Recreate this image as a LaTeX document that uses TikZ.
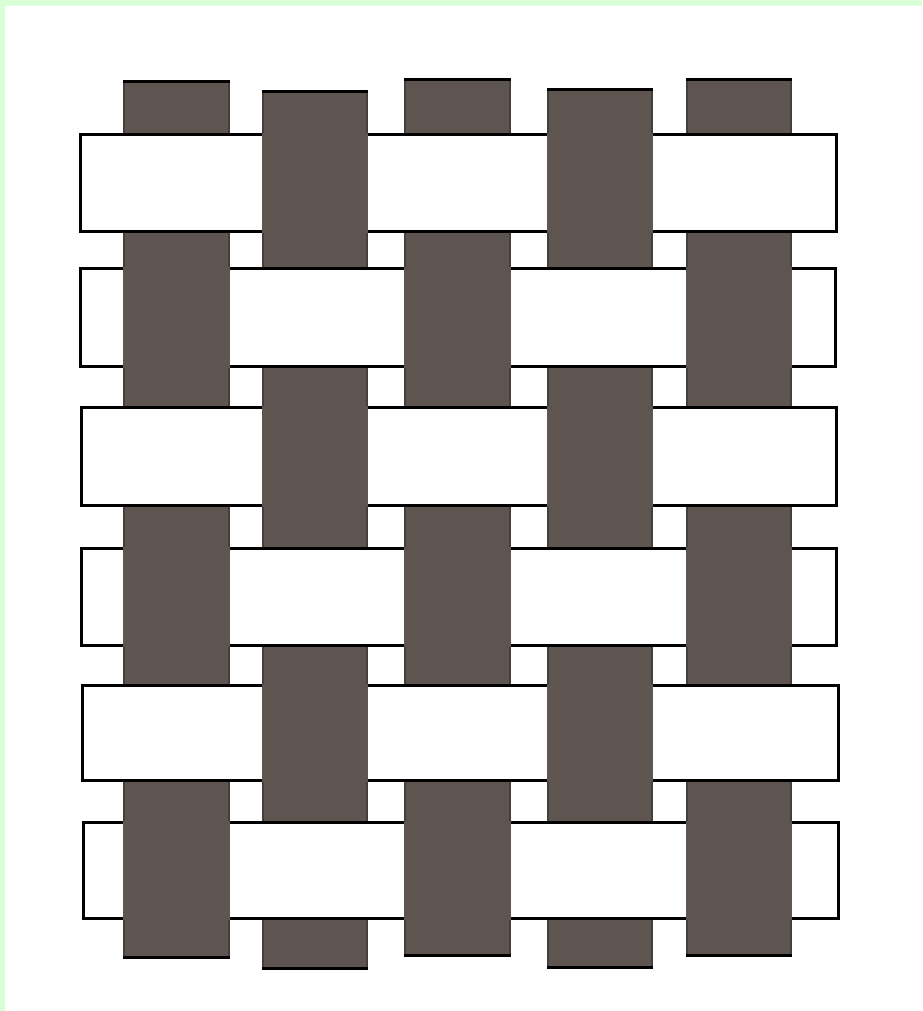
\documentclass[tikz,border=0pt]{standalone}
\begin{document}
\begin{tikzpicture}[x=1pt,y=-1pt,
  warp/.style={fill=warpc,draw=warpedge,line width=2pt},
  warpend/.style={draw=black,line width=3pt},
  weft/.style={fill=white,draw=black,line width=3pt},
  over/.style={fill=warpc}]
\definecolor{warpc}{RGB}{94,84,80}
\definecolor{warpedge}{RGB}{70,62,60}
\definecolor{frame}{RGB}{216,255,216}
\useasboundingbox (0,0) rectangle (922,1011);
\fill[white] (0,0) rectangle (922,1011);
\fill[frame] (0,0) rectangle (922,6);
\fill[frame] (0,0) rectangle (5,1011);
% warps: left, right, top, bottom
\def\warps{124/229/82/957, 263/367/92/968, 405/510/80/955, 548/652/90/967, 687/791/80/955}
\foreach \l/\r/\t/\b in \warps {
  \draw[warp] (\l,\t) rectangle (\r,\b);
  \draw[warpend] (\l-1,\t) -- (\r+1,\t) (\l-1,\b) -- (\r+1,\b);
}
% wefts: top, bottom, left, right, type (1 = wide rows over cols 1,3,5)
\def\wefts{135/231/80/836/1, 268/366/80/835/2, 407/505/81/836/1, 548/645/81/836/2, 685/780/82/838/1, 822/918/83/838/2}
\foreach \t/\b/\l/\r/\k in \wefts {
  \draw[weft] (\l,\t) rectangle (\r,\b);
  \ifnum\k=1
    \foreach \l/\r in {263/367, 548/652} {
      \fill[over] (\l-1,\t-1.5) rectangle (\r+1,\b+1.5);
    }
  \else
    \foreach \l/\r in {124/229, 405/510, 687/791} {
      \fill[over] (\l-1,\t-1.5) rectangle (\r+1,\b+1.5);
    }
  \fi
}
\end{tikzpicture}
\end{document}
